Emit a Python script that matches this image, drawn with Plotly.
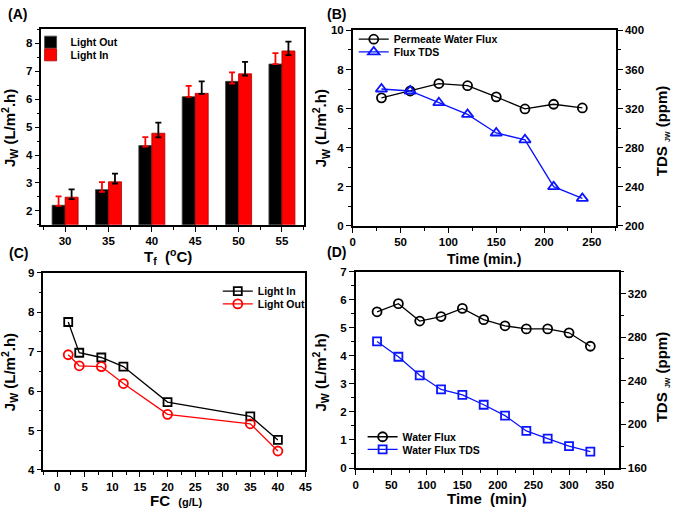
import plotly.graph_objects as go

# ---------------- data ----------------
# Panel A
temps = [30, 35, 40, 45, 50, 55]
light_out_A = [2.20, 2.76, 4.34, 6.09, 6.64, 7.26]
light_out_A_err_up = [0.32, 0.27, 0.30, 0.39, 0.32, 0.39]
light_out_A_err_dn = [0.02, 0.08, 0.04, 0.01, 0.08, 0.00]
light_in_A = [2.49, 3.04, 4.78, 6.21, 6.91, 7.73]
light_in_A_err_up = [0.28, 0.29, 0.38, 0.43, 0.43, 0.33]
light_in_A_err_dn = [0.07, 0.06, 0.15, 0.02, 0.06, 0.15]

# Panel B
time_B = [30, 60, 90, 120, 150, 180, 210, 240]
flux_B = [6.55, 6.90, 7.28, 7.17, 6.60, 5.98, 6.22, 6.03]
tds_B = [340, 338, 326, 314, 295, 288, 240, 228]

# Panel C
fc_C = [2, 4, 8, 12, 20, 35, 40]
light_in_C = [7.75, 6.97, 6.85, 6.62, 5.72, 5.36, 4.76]
light_out_C = [6.92, 6.64, 6.62, 6.19, 5.41, 5.17, 4.48]

# Panel D
time_D = [30, 60, 90, 120, 150, 180, 210, 240, 270, 300, 330]
flux_D = [5.57, 5.86, 5.24, 5.40, 5.69, 5.29, 5.07, 4.96, 4.96, 4.82, 4.34]
tds_D = [276, 262, 245, 232, 227, 218, 208, 194, 187, 180, 175]

# ---------------- style ----------------
FONT = "Liberation Sans"
RED = "#ff0000"
BLUE = "#0a14ff"
W, H = 678, 516


def px_x(p):
    return p / W


def px_y(p):
    return 1 - p / H


fig = go.Figure()

# Panel A bars
fig.add_trace(go.Bar(
    x=temps, y=light_out_A, name="<b>Light Out</b>", marker=dict(color="black", line=dict(color="#444", width=0.8)),
    error_y=dict(type="data", symmetric=False, array=light_out_A_err_up, arrayminus=light_out_A_err_dn,
                 color=RED, thickness=1.8, width=3),
    xaxis="x", yaxis="y", legend="legend"))
fig.add_trace(go.Bar(
    x=temps, y=light_in_A, name="<b>Light In</b>", marker=dict(color=RED, line=dict(color="#a00", width=0.8)),
    error_y=dict(type="data", symmetric=False, array=light_in_A_err_up, arrayminus=light_in_A_err_dn,
                 color="black", thickness=1.8, width=3),
    xaxis="x", yaxis="y", legend="legend2"))

# Panel B
fig.add_trace(go.Scatter(
    x=time_B, y=flux_B, name="<b>Permeate Water Flux</b>", mode="lines+markers",
    line=dict(color="black", width=1.3),
    marker=dict(symbol="circle-open", size=9, color="black", line=dict(width=1.8)),
    xaxis="x2", yaxis="y2", legend="legend3"))
fig.add_trace(go.Scatter(
    x=time_B, y=tds_B, name="<b>Flux TDS</b>", mode="lines+markers",
    line=dict(color=BLUE, width=1.3),
    marker=dict(symbol="triangle-up-open", size=10, color=BLUE, line=dict(width=1.8)),
    xaxis="x2", yaxis="y3", legend="legend4"))

# Panel C
fig.add_trace(go.Scatter(
    x=fc_C, y=light_in_C, name="<b>Light In</b>", mode="lines+markers",
    line=dict(color="black", width=1.3),
    marker=dict(symbol="square-open", size=8, color="black", line=dict(width=1.8)),
    xaxis="x3", yaxis="y4", legend="legend5"))
fig.add_trace(go.Scatter(
    x=fc_C, y=light_out_C, name="<b>Light Out</b>", mode="lines+markers",
    line=dict(color=RED, width=1.3),
    marker=dict(symbol="circle-open", size=9, color=RED, line=dict(width=1.8)),
    xaxis="x3", yaxis="y4", legend="legend6"))

# Panel D
fig.add_trace(go.Scatter(
    x=time_D, y=flux_D, name="<b>Water Flux</b>", mode="lines+markers",
    line=dict(color="black", width=1.3),
    marker=dict(symbol="circle-open", size=9, color="black", line=dict(width=1.8)),
    xaxis="x4", yaxis="y5", legend="legend7"))
fig.add_trace(go.Scatter(
    x=time_D, y=tds_D, name="<b>Water Flux TDS</b>", mode="lines+markers",
    line=dict(color=BLUE, width=1.3),
    marker=dict(symbol="square-open", size=8, color=BLUE, line=dict(width=1.8)),
    xaxis="x4", yaxis="y6", legend="legend8"))

tickfont = dict(family=FONT, size=11.5, color="black", weight="bold")


def ax(**kw):
    base = dict(showline=True, linecolor="black", linewidth=1.5, mirror=True,
                ticks="outside", ticklen=5, tickwidth=1.2, tickcolor="black",
                showgrid=False, zeroline=False, tickfont=tickfont)
    base.update(kw)
    return base


def yaxis_right(**kw):
    base = dict(showline=True, linecolor="black", linewidth=1.5, side="right",
                ticks="outside", ticklen=5, tickwidth=1.2, tickcolor="black",
                showgrid=False, zeroline=False, tickfont=tickfont)
    base.update(kw)
    return base


def mn(d):
    return dict(ticks="outside", ticklen=3, dtick=d, tickcolor="black", tickwidth=1)


dA_x = [px_x(39), px_x(306)]
dA_y = [px_y(224), px_y(24)]
dB_x = [px_x(355), px_x(622)]
dB_y = [px_y(225), px_y(25)]
dC_x = [px_x(41), px_x(307)]
dC_y = [px_y(475), px_y(273)]
dD_x = [px_x(358), px_x(625)]
dD_y = [px_y(473), px_y(272)]

fig.update_layout(
    width=W, height=H, margin=dict(l=0, r=0, t=0, b=0),
    paper_bgcolor="white", plot_bgcolor="white",
    font=dict(family=FONT, color="black"),
    barmode="group", bargap=0.4, bargroupgap=0,
    xaxis=ax(domain=dA_x, anchor="y", range=[27.27, 57.6], tickvals=temps, minor=dict(mn(2.5), tick0=27.5)),
    yaxis=ax(domain=dA_y, anchor="x", range=[1.5, 8.5], dtick=1, minor=mn(0.5)),
    xaxis2=ax(domain=dB_x, anchor="y2", range=[0, 275], dtick=50, minor=mn(25)),
    yaxis2=ax(domain=dB_y, anchor="x2", range=[0, 10], dtick=2, mirror=False, minor=mn(1)),
    yaxis3=yaxis_right(overlaying="y2", anchor="x2", range=[200, 400], dtick=40, minor=mn(20)),
    xaxis3=ax(domain=dC_x, anchor="y4", range=[-2.5, 45], dtick=5, minor=mn(2.5)),
    yaxis4=ax(domain=dC_y, anchor="x3", range=[4, 9], dtick=1, minor=mn(0.5)),
    xaxis4=ax(domain=dD_x, anchor="y5", range=[0, 370], dtick=50, minor=mn(25)),
    yaxis5=ax(domain=dD_y, anchor="x4", range=[0, 7], dtick=1, mirror=False, minor=mn(0.5)),
    yaxis6=yaxis_right(overlaying="y5", anchor="x4", range=[160, 340], tickvals=[160, 200, 240, 280, 320], minor=mn(20)),
    showlegend=True,
)

legfont = dict(family=FONT, size=10.5, color="black", weight="bold")
leg = dict(font=legfont, bgcolor="rgba(0,0,0,0)", borderwidth=0, xanchor="left", yanchor="middle",
           tracegroupgap=0, itemwidth=30)
fig.update_layout(
    legend=dict(leg, x=px_x(28), y=px_y(37)),
    legend2=dict(leg, x=px_x(28), y=px_y(50)),
    legend3=dict(leg, x=px_x(356), y=px_y(34)),
    legend4=dict(leg, x=px_x(356), y=px_y(47)),
    legend5=dict(leg, x=px_x(218), y=px_y(292)),
    legend6=dict(leg, x=px_x(218), y=px_y(305)),
    legend7=dict(leg, x=px_x(365), y=px_y(441)),
    legend8=dict(leg, x=px_x(365), y=px_y(454)),
)

ann = []


def A(text, x, y, size=15, angle=0):
    ann.append(dict(text=text, x=px_x(x), y=px_y(y), xref="paper", yref="paper", showarrow=False,
                    textangle=angle, xanchor="center", yanchor="middle",
                    font=dict(family=FONT, size=size, color="black", weight="bold")))


# panel labels
A("(A)", 15, 8, size=14)
A("(B)", 338, 8, size=14)
A("(C)", 16, 253, size=14)
A("(D)", 338, 252, size=14)

# axis titles
A("T<sub>f</sub>  (<sup>o</sup>C)", 167, 256, size=15)
A("J<sub>W</sub> (L/m<sup>2</sup>.h)", 6, 125, size=15, angle=-90)
A("Time (min.)", 488, 259, size=14)
A("J<sub>W</sub> (L/m<sup>2</sup>.h)", 322, 125, size=15, angle=-90)
A("TDS <sub><span style='font-size:7px'>JW</span></sub> (ppm)", 669, 128, size=15, angle=-90)
A("FC  <span style='font-size:11px'>(g/L)</span>", 176, 506, size=15)
A("J<sub>W</sub> (L/m<sup>2</sup>.h)", 6, 375, size=15, angle=-90)
A("Time  (min)", 491, 504, size=15)
A("J<sub>W</sub> (L/m<sup>2</sup>.h)", 322, 375, size=15, angle=-90)
A("TDS <sub><span style='font-size:7px'>JW</span></sub> (ppm)", 669, 380, size=15, angle=-90)

fig.update_layout(annotations=ann)

fig.write_html("out.html", config={"displayModeBar": False},
               post_script="document.body.style.margin='0';")
